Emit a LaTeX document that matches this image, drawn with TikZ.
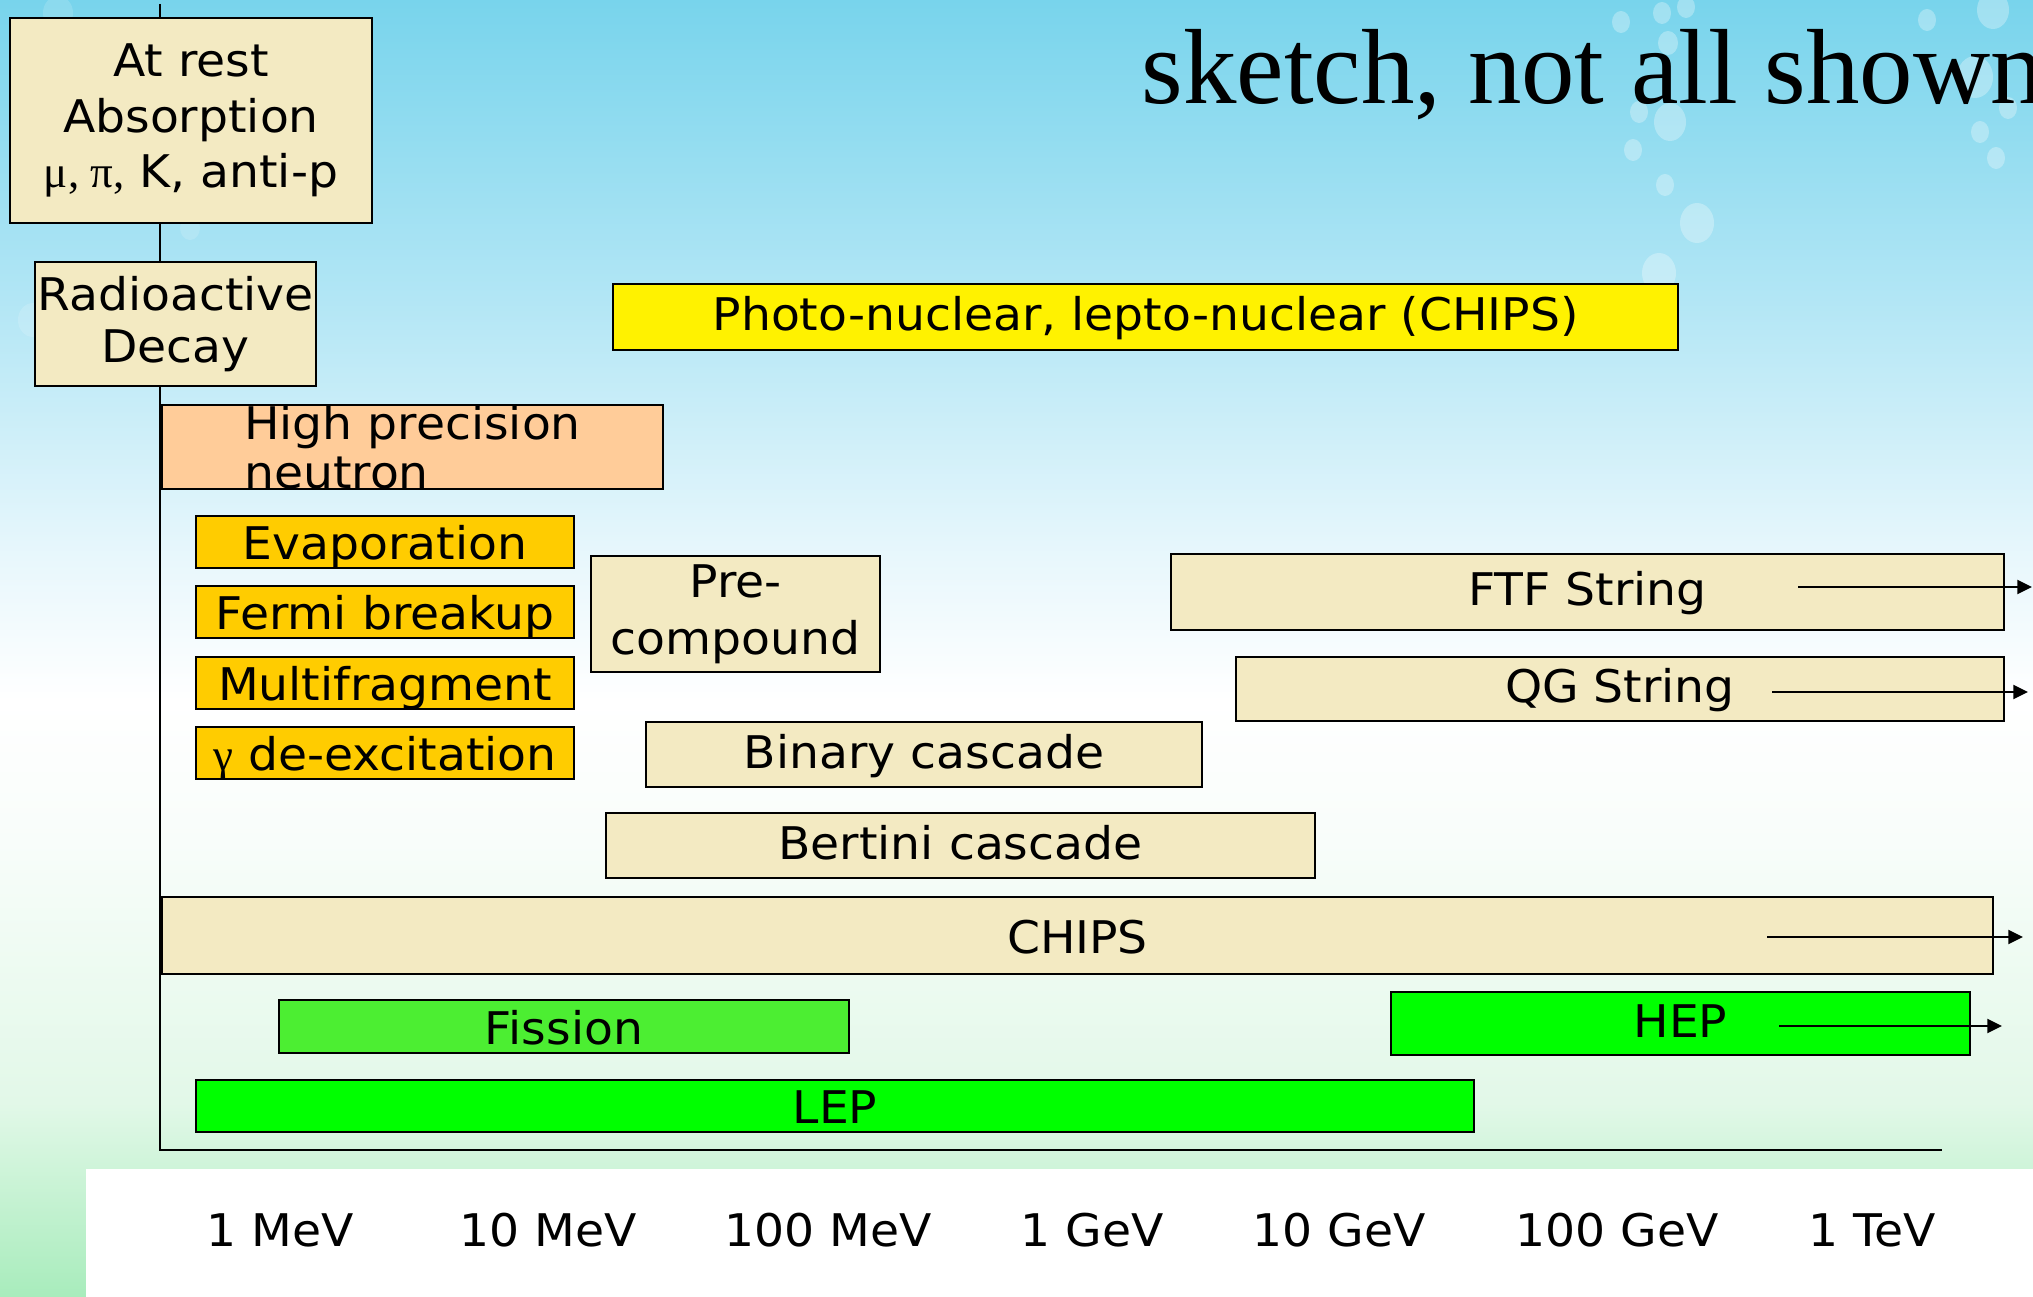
\documentclass[tikz,border=0pt]{standalone}
\usepackage{fontspec}
\setmainfont{DejaVu Sans}[FakeStretch=1.05]
\newfontfamily\rmserif{Liberation Serif}
\usetikzlibrary{arrows.meta}
\definecolor{beige}{RGB}{243,234,194}
\definecolor{peach}{RGB}{255,204,153}
\definecolor{gold}{RGB}{255,204,0}
\definecolor{lgreen}{RGB}{76,238,50}
\definecolor{skytop}{RGB}{120,212,236}
\definecolor{skymid}{RGB}{178,230,245}
\definecolor{palesky}{RGB}{232,247,252}
\definecolor{paleg}{RGB}{248,253,250}
\definecolor{grassb}{RGB}{226,248,232}
\definecolor{grass}{RGB}{168,236,188}
\pgfdeclareverticalshading{skyfade}{100bp}{color(0bp)=(grass); color(25bp)=(grass); color(32.5bp)=(grassb); color(42.5bp)=(paleg); color(48bp)=(white); color(53.5bp)=(palesky); color(63.5bp)=(skymid); color(75bp)=(skytop); color(100bp)=(skytop)}

\begin{document}
\begin{tikzpicture}[x=1cm, y=-1cm,
    box/.style={draw, line width=0.5pt, rectangle, inner sep=0pt, font=\fontsize{12.8pt}{15pt}\selectfont},
    bar/.style={box, text height=10.2pt, text depth=0pt},
    widebar/.style={bar, text height=7.9pt},
    bubble/.style={fill=white, opacity=0.3},
    >={Triangle[length=4.2pt,width=4pt]}]
    \useasboundingbox (0,0) rectangle (20.33,12.97);
    \clip (0,0) rectangle (20.33,12.97);
    \shade[shading=skyfade] (0,0) rectangle (20.33,12.97);
    \fill[white] (0.86,11.69) rectangle (20.33,12.97);

    \fill[bubble] (16.21,0.22) ellipse (0.09 and 0.11);
    \fill[bubble] (16.62,0.13) ellipse (0.09 and 0.11);
    \fill[bubble] (16.86,0.07) ellipse (0.09 and 0.11);
    \fill[bubble] (19.93,0.10) ellipse (0.16 and 0.19);
    \fill[bubble] (19.27,0.20) ellipse (0.09 and 0.11);
    \fill[bubble] (16.68,0.43) ellipse (0.10 and 0.12);
    \fill[bubble] (19.75,0.77) ellipse (0.18 and 0.21);
    \fill[bubble] (16.39,1.12) ellipse (0.09 and 0.11);
    \fill[bubble] (16.70,1.22) ellipse (0.16 and 0.19);
    \fill[bubble] (20.08,1.08) ellipse (0.09 and 0.11);
    \fill[bubble] (19.80,1.32) ellipse (0.09 and 0.11);
    \fill[bubble] (16.33,1.50) ellipse (0.09 and 0.11);
    \fill[bubble] (19.96,1.58) ellipse (0.09 and 0.11);
    \fill[bubble] (16.65,1.85) ellipse (0.09 and 0.11);
    \fill[bubble] (16.97,2.23) ellipse (0.17 and 0.20);
    \fill[bubble] (16.59,2.73) ellipse (0.17 and 0.20);
    \fill[bubble, opacity=0.15] (0.58,0.13) ellipse (0.15 and 0.17);
    \fill[bubble, opacity=0.15] (1.90,2.28) ellipse (0.10 and 0.12);
    \fill[bubble, opacity=0.15] (0.33,3.20) ellipse (0.15 and 0.17);

    \node[anchor=base west, inner sep=0pt, font=\fontsize{30.4pt}{36pt}\selectfont\rmserif] (title) at (11.41,1.04) {sketch, not all shown};

    \coordinate (ytop) at (1.6,0.04);
    \coordinate (orig) at (1.6,11.5);
    \coordinate (xend) at (19.42,11.5);
    \draw[line width=0.6pt] (ytop) -- (orig) -- (xend);

    \node[box, fill=beige, minimum width=3.62cm, minimum height=2.05cm, align=center, font=\fontsize{12.8pt}{15.9pt}\selectfont] (atrest) at (1.91,1.205) {At rest\\Absorption\\{\rmserif μ, π,} K, anti-p};
    \node[box, fill=beige, minimum width=2.81cm, minimum height=1.24cm, align=center] (decay) at (1.755,3.24) {Radioactive\\Decay};
    \node[widebar, fill=yellow, minimum width=10.65cm, minimum height=0.66cm] (photo) at (11.455,3.17) {Photo-nuclear, lepto-nuclear (CHIPS)};
    \node[box, fill=peach, minimum width=5.01cm, minimum height=0.74cm, align=left, font=\fontsize{12.8pt}{13.9pt}\selectfont] (hpn) at (4.125,4.47) {High precision\\neutron};

    \node[bar, fill=gold, minimum width=3.78cm, minimum height=0.52cm] (evap) at (3.85,5.42) {Evaporation};
    \node[bar, fill=gold, minimum width=3.78cm, minimum height=0.52cm] (fermi) at (3.85,6.12) {Fermi breakup};
    \node[bar, fill=gold, minimum width=3.78cm, minimum height=0.52cm] (multi) at (3.85,6.83) {Multifragment};
    \node[bar, fill=gold, minimum width=3.78cm, minimum height=0.52cm] (gamma) at (3.85,7.53) {{\rmserif γ} de-excitation};

    \node[box, fill=beige, minimum width=2.89cm, minimum height=1.16cm, align=center, font=\fontsize{12.8pt}{16.2pt}\selectfont] (precomp) at (7.355,6.14) {Pre-\\compound};
    \node[widebar, fill=beige, minimum width=5.56cm, minimum height=0.65cm] (binary) at (9.24,7.545) {Binary cascade};
    \node[widebar, fill=beige, minimum width=7.09cm, minimum height=0.65cm] (bertini) at (9.605,8.455) {Bertini cascade};
    \node[widebar, fill=beige, minimum width=8.33cm, minimum height=0.76cm] (ftf) at (15.875,5.92) {FTF String};
    \node[widebar, fill=beige, minimum width=7.68cm, minimum height=0.64cm] (qgs) at (16.2,6.89) {QG String};
    \node[bar, fill=beige, minimum width=18.31cm, minimum height=0.77cm] (chips) at (10.775,9.355) {CHIPS};
    \node[bar, fill=lgreen, minimum width=5.70cm, minimum height=0.53cm] (fission) at (5.64,10.265) {Fission};
    \node[widebar, fill=green, minimum width=5.79cm, minimum height=0.63cm] (hep) at (16.805,10.235) {HEP};
    \node[bar, fill=green, minimum width=12.78cm, minimum height=0.52cm] (lep) at (8.35,11.06) {LEP};

    \coordinate (ftfa) at (17.98,5.87);
    \coordinate (ftfb) at (20.32,5.87);
    \coordinate (qgsa) at (17.72,6.92);
    \coordinate (qgsb) at (20.28,6.92);
    \coordinate (chipsa) at (17.67,9.37);
    \coordinate (chipsb) at (20.23,9.37);
    \coordinate (hepa) at (17.79,10.26);
    \coordinate (hepb) at (20.02,10.26);
    \draw[->, line width=0.6pt] (ftfa) -- (ftfb);
    \draw[->, line width=0.6pt] (qgsa) -- (qgsb);
    \draw[->, line width=0.6pt] (chipsa) -- (chipsb);
    \draw[->, line width=0.6pt] (hepa) -- (hepb);

    \node[anchor=base, font=\fontsize{12.8pt}{15pt}\selectfont] (mev1) at (2.805,12.46) {1 MeV};
    \node[anchor=base, font=\fontsize{12.8pt}{15pt}\selectfont] (mev10) at (5.48,12.46) {10 MeV};
    \node[anchor=base, font=\fontsize{12.8pt}{15pt}\selectfont] (mev100) at (8.28,12.46) {100 MeV};
    \node[anchor=base, font=\fontsize{12.8pt}{15pt}\selectfont] (gev1) at (10.92,12.46) {1 GeV};
    \node[anchor=base, font=\fontsize{12.8pt}{15pt}\selectfont] (gev10) at (13.39,12.46) {10 GeV};
    \node[anchor=base, font=\fontsize{12.8pt}{15pt}\selectfont] (gev100) at (16.17,12.46) {100 GeV};
    \node[anchor=base, font=\fontsize{12.8pt}{15pt}\selectfont] (tev1) at (18.72,12.46) {1 TeV};
\end{tikzpicture}
\end{document}
